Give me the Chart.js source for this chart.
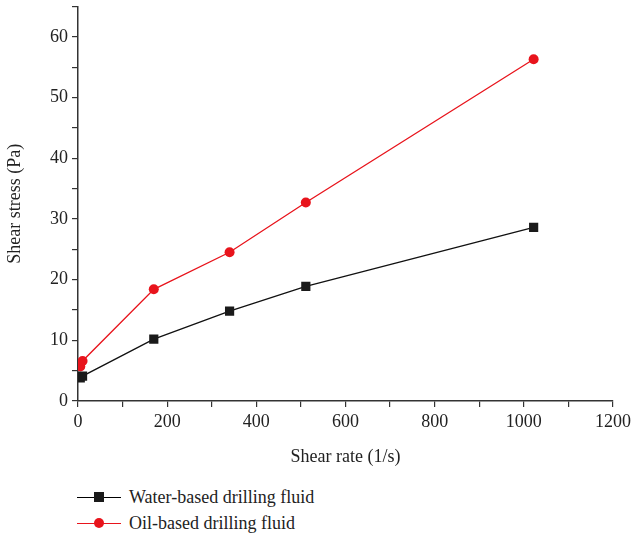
<!DOCTYPE html>
<html>
<head>
<meta charset="utf-8">
<script src="https://cdn.jsdelivr.net/npm/chart.js@4"></script>
<style>
  html, body { margin: 0; padding: 0; background: #fff; }
  #wrap { position: relative; width: 633px; height: 540px; }
  #box { position: absolute; left: 0; top: 0; width: 633px; height: 472px; }
  .legend { position: absolute; left: 77px; font-family: "Liberation Serif", "DejaVu Serif", serif; font-size: 18px; color: #222; }
  .legend div { display: flex; align-items: center; height: 26px; }
  .key { position: relative; width: 44px; height: 12px; margin-right: 8px; }
  .key .ln { position: absolute; left: 0; right: 0; top: 5.5px; height: 1.3px; }
  .key .mk { position: absolute; left: 17px; top: 1px; width: 10px; height: 10px; }
</style>
</head>
<body>
<div id="wrap">
  <div id="box"><canvas id="c"></canvas></div>
  <div class="legend" style="top:484px">
    <div><span class="key"><span class="ln" style="background:#000"></span><span class="mk" style="background:#1a1a1a"></span></span>Water-based drilling fluid</div>
    <div><span class="key"><span class="ln" style="background:#e8141c"></span><span class="mk" style="background:#e8141c;border-radius:50%"></span></span>Oil-based drilling fluid</div>
  </div>
</div>
<script>
// Shear rates (1/s) and measured shear stress (Pa)
const shearRates = [5.1, 10.2, 170, 340, 511, 1022];
const waterStress = [3.8, 4.1, 10.2, 14.8, 18.9, 28.6];
const oilStress = [5.7, 6.6, 18.4, 24.5, 32.7, 56.3];
const seriesNames = ['Water-based drilling fluid', 'Oil-based drilling fluid'];
const xTickLabels = [0, 200, 400, 600, 800, 1000, 1200];
const yTickLabels = [0, 10, 20, 30, 40, 50, 60];

const toPoints = ys => shearRates.map((x, i) => ({ x, y: ys[i] }));
const FONT = '"Liberation Serif", "DejaVu Serif", serif';

new Chart(document.getElementById('c'), {
  type: 'line',
  data: {
    datasets: [
      {
        label: seriesNames[0], data: toPoints(waterStress),
        borderColor: '#111', backgroundColor: '#1a1a1a', borderWidth: 1.3,
        pointStyle: 'rect', pointRadius: 6.5, pointBorderWidth: 0, tension: 0
      },
      {
        label: seriesNames[1], data: toPoints(oilStress),
        borderColor: '#e8141c', backgroundColor: '#e8141c', borderWidth: 1.3,
        pointStyle: 'circle', pointRadius: 5, pointBorderWidth: 0, tension: 0
      }
    ]
  },
  options: {
    responsive: true, maintainAspectRatio: false, animation: false,
    layout: { padding: { top: 2, right: 20, left: 0, bottom: 0 } },
    plugins: { legend: { display: false }, tooltip: { enabled: false } },
    scales: {
      x: {
        type: 'linear', min: 0, max: 1200,
        border: { color: '#333', width: 1.5 },
        grid: { drawOnChartArea: false, drawTicks: true, tickLength: 6, color: '#333', lineWidth: 1.2 },
        ticks: {
          stepSize: 100, color: '#222', padding: 4, maxRotation: 0, autoSkip: false,
          font: { family: FONT, size: 18 },
          callback: v => xTickLabels.includes(v) ? String(v) : ''
        },
        title: { display: true, text: 'Shear rate (1/s)', color: '#222', font: { family: FONT, size: 18 }, padding: { top: 4 } },
        afterFit: s => { s.height = 71; s.paddingLeft = 0; s.paddingRight = 0; }
      },
      y: {
        type: 'linear', min: 0, max: 65,
        border: { color: '#333', width: 1.5 },
        grid: { drawOnChartArea: false, drawTicks: true, tickLength: 6, color: '#333', lineWidth: 1.2 },
        ticks: {
          stepSize: 5, color: '#222', padding: 4, autoSkip: false,
          font: { family: FONT, size: 18 },
          callback: v => yTickLabels.includes(v) ? String(v) : ''
        },
        title: { display: true, text: 'Shear stress (Pa)', color: '#222', font: { family: FONT, size: 18 }, padding: { top: 4, bottom: 0 } },
        afterFit: s => { s.width = 78; s.paddingTop = 0; s.paddingBottom = 0; }
      }
    }
  }
});
</script>
</body>
</html>
